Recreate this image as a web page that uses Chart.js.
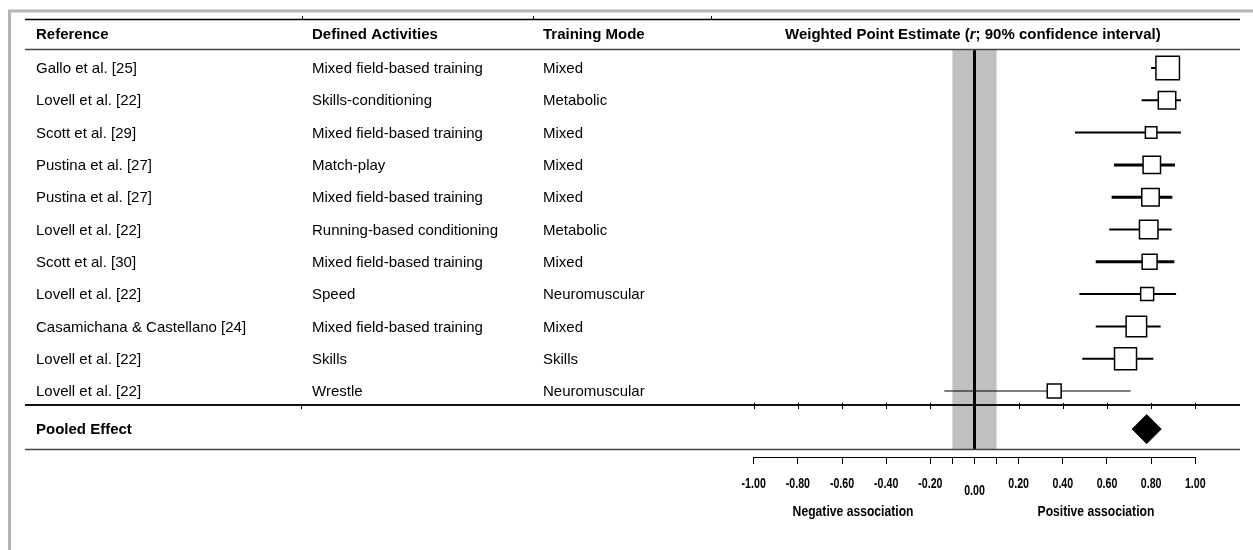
<!DOCTYPE html>
<html>
<head>
<meta charset="utf-8">
<script src="https://cdn.jsdelivr.net/npm/chart.js@4.4.1/dist/chart.umd.min.js"></script>
<style>
  body { margin: 0; background: #fff; }
  #wrap { width: 1253px; height: 550px; }
</style>
</head>
<body>
<div id="wrap"><canvas id="chart" width="1253" height="550"></canvas></div>
<script>
// -------------------- data --------------------//
var references = ["Gallo et al. [25]", "Lovell et al. [22]", "Scott et al. [29]", "Pustina et al. [27]", "Pustina et al. [27]",
    "Lovell et al. [22]", "Scott et al. [30]", "Lovell et al. [22]", "Casamichana & Castellano [24]", "Lovell et al. [22]", "Lovell et al. [22]"];
var activities = ["Mixed field-based training", "Skills-conditioning", "Mixed field-based training", "Match-play", "Mixed field-based training",
    "Running-based conditioning", "Mixed field-based training", "Speed", "Mixed field-based training", "Skills", "Wrestle"];
var modes = ["Mixed", "Metabolic", "Mixed", "Mixed", "Mixed", "Metabolic", "Mixed", "Neuromuscular", "Mixed", "Skills", "Neuromuscular"];
var estimates = [0.875, 0.872, 0.80, 0.803, 0.797, 0.789, 0.793, 0.782, 0.733, 0.684, 0.361];
var lower = [0.80, 0.757, 0.455, 0.632, 0.621, 0.61, 0.549, 0.475, 0.549, 0.488, -0.137];
var upper = [0.92, 0.935, 0.935, 0.908, 0.896, 0.893, 0.905, 0.913, 0.843, 0.81, 0.707];
var weights = [15.5, 8.9, 4.2, 8.9, 8.9, 9.9, 6.7, 5.2, 12.0, 13.7, 5.9]; // % weight (box area)
var pooled = 0.78;
var trivial = [-0.1, 0.1];
var tickValues = [-1, -0.8, -0.6, -0.4, -0.2, -0.1, 0, 0.1, 0.2, 0.4, 0.6, 0.8, 1];
var tickLabels = ["-1.00", "-0.80", "-0.60", "-0.40", "-0.20", "", "0.00", "", "0.20", "0.40", "0.60", "0.80", "1.00"];
var headers = ["Reference", "Defined Activities", "Training Mode"];

// -------------------- styles --------------------//
var whiskerWidth = [2, 2, 2, 3, 3, 2, 3, 2, 2, 2, 1];
var pooledRow = references.length + 0.18;
var SANS = '"Liberation Sans", Arial, sans-serif';
var colX = [36, 312, 543];

function boxRadius(w) {
    var side = 6.35 * Math.sqrt(w) - 1.5;
    return side / (2 * Math.SQRT1_2);
}

var datasets = [];
references.forEach(function (r, i) {
    datasets.push({
        data: [{ x: lower[i], y: i }, { x: upper[i], y: i }],
        showLine: true,
        borderColor: "#000",
        borderWidth: whiskerWidth[i],
        pointRadius: 0,
        order: 2
    });
});
datasets.push({
    data: estimates.map(function (e, i) { return { x: e, y: i }; }),
    pointStyle: "rect",
    pointRadius: function (ctx) { return boxRadius(weights[ctx.dataIndex]); },
    backgroundColor: "#fff",
    borderColor: "#000",
    borderWidth: 1.5,
    order: 1
});
datasets.push({
    data: [{ x: pooled, y: pooledRow }],
    pointStyle: "rectRot",
    pointRadius: 14.5,
    backgroundColor: "#000",
    borderColor: "#000",
    borderWidth: 1,
    order: 1
});

function hline(c, y, x1, x2, color, w) {
    c.strokeStyle = color;
    c.lineWidth = w;
    c.beginPath();
    c.moveTo(x1, y);
    c.lineTo(x2, y);
    c.stroke();
}

// condensed bold text (the original uses a narrow face)
function narrow(c, text, x, y, size, squeeze) {
    c.save();
    c.font = "bold " + size + "px " + SANS;
    c.textAlign = "center";
    c.textBaseline = "middle";
    c.translate(x, y);
    c.scale(squeeze, 1);
    c.fillText(text, 0, 0);
    c.restore();
}

var tablePlugin = {
    id: "table",
    beforeDatasetsDraw: function (chart) {
        var c = chart.ctx, x = chart.scales.x;
        var top = 50, bottom = 449;
        var b0 = x.getPixelForValue(trivial[0]), b1 = x.getPixelForValue(trivial[1]);
        c.save();
        c.fillStyle = "#c0c0c0";
        c.fillRect(b0, top, b1 - b0, bottom - top);
        c.strokeStyle = "#000";
        c.lineWidth = 3;
        c.beginPath();
        c.moveTo(x.getPixelForValue(0), top);
        c.lineTo(x.getPixelForValue(0), bottom);
        c.stroke();
        c.restore();
    },
    afterDraw: function (chart) {
        var c = chart.ctx, x = chart.scales.x, y = chart.scales.y;
        c.save();
        // outer frame
        hline(c, 11, 8, 1253, "#b4b4b4", 3);
        c.strokeStyle = "#b4b4b4";
        c.lineWidth = 3;
        c.beginPath(); c.moveTo(9.5, 10); c.lineTo(9.5, 550); c.stroke();
        // table rules
        hline(c, 19.5, 25, 1240, "#000", 1.5);
        hline(c, 49.5, 25, 1240, "#444", 1.5);
        hline(c, 405, 25, 1240, "#111", 2);
        hline(c, 449.5, 25, 1240, "#444", 1.5);
        c.strokeStyle = "#000";
        c.lineWidth = 1;
        [302, 533, 711].forEach(function (px) {
            c.beginPath(); c.moveTo(px + 0.5, 16); c.lineTo(px + 0.5, 19); c.stroke();
        });
        c.beginPath(); c.moveTo(301.5, 405); c.lineTo(301.5, 409); c.stroke();
        for (var v = -1; v <= 1.001; v += 0.2) {
            var px = Math.round(x.getPixelForValue(v)) + 0.5;
            c.beginPath(); c.moveTo(px, 403); c.lineTo(px, 409); c.stroke();
        }

        c.fillStyle = "#000";
        c.textBaseline = "middle";
        c.textAlign = "left";
        // headers
        c.font = "bold 15px " + SANS;
        headers.forEach(function (h, k) { c.fillText(h, colX[k], 35); });
        var hx = 785;
        c.fillText("Weighted Point Estimate (", hx, 35);
        hx += c.measureText("Weighted Point Estimate (").width;
        c.font = "italic bold 15px " + SANS;
        c.fillText("r", hx, 35);
        hx += c.measureText("r").width;
        c.font = "bold 15px " + SANS;
        c.fillText("; 90% confidence interval)", hx, 35);

        // rows
        c.font = "15px " + SANS;
        references.forEach(function (r, i) {
            var py = y.getPixelForValue(i) + 1;
            c.fillText(r, colX[0], py);
            c.fillText(activities[i], colX[1], py);
            c.fillText(modes[i], colX[2], py);
        });
        c.font = "bold 15px " + SANS;
        c.fillText("Pooled Effect", colX[0], y.getPixelForValue(pooledRow) + 1);

        // x tick labels, placed at the scale's own tick pixels
        x.ticks.forEach(function (t, i) {
            if (!tickLabels[i]) return;
            narrow(c, tickLabels[i], x.getPixelForTick(i), t.value === 0 ? 491 : 484, 14, 0.76);
        });
        // axis captions
        narrow(c, "Negative association", x.getPixelForValue(-0.55), 512, 15, 0.81);
        narrow(c, "Positive association", x.getPixelForValue(0.55), 512, 15, 0.81);
        c.restore();
    }
};

var ctx = document.querySelector("#chart").getContext("2d");
var chart = new Chart(ctx, {
    type: "scatter",
    data: { datasets: datasets },
    plugins: [tablePlugin],
    options: {
        responsive: false,
        animation: false,
        events: [],
        layout: { padding: { left: 753.7, right: 57.7, top: 50, bottom: 0 } },
        plugins: { legend: { display: false }, tooltip: { enabled: false } },
        scales: {
            x: {
                type: "linear",
                min: -1,
                max: 1,
                position: "bottom",
                afterBuildTicks: function (s) {
                    s.ticks = tickValues.map(function (v) { return { value: v }; });
                },
                afterFit: function (s) { s.height = 93; },
                grid: { drawOnChartArea: false, drawTicks: true, tickLength: 7, color: "#000", lineWidth: 1 },
                border: { display: true, color: "#000", width: 1 },
                ticks: { display: false, autoSkip: false }
            },
            y: { type: "linear", display: false, min: -0.557, max: 12.043, reverse: true }
        }
    }
});
</script>
</body>
</html>
